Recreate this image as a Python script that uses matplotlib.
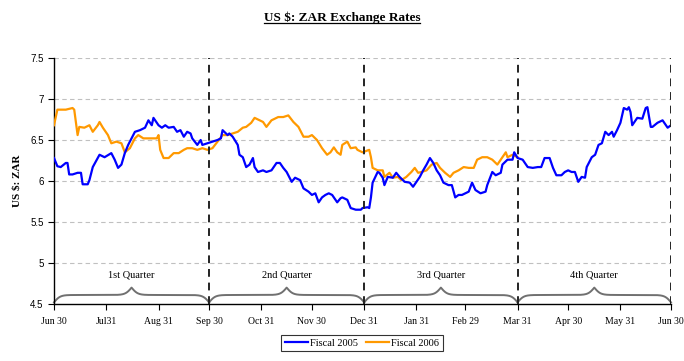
import numpy as np
import matplotlib
matplotlib.use("Agg")
import matplotlib.pyplot as plt
from matplotlib.lines import Line2D

# ---------------- data ----------------
fy2005_days = [0, 2, 4, 7, 8, 9, 11, 14, 16, 17, 20, 21, 23, 27, 30, 34, 36, 38, 40, 42,
               44, 46, 48, 51, 54, 56, 58, 59, 62, 64, 66, 68, 71, 73, 75, 77, 79, 81, 82, 85,
               87, 88, 91, 94, 97, 99, 100, 103, 104, 106, 109, 110, 112, 114, 116, 118, 119, 121, 124, 126,
               129, 132, 134, 136, 138, 141, 143, 146, 148, 151, 153, 155, 157, 159, 161, 163, 165, 168, 170, 171,
               174, 176, 179, 182, 183, 186, 187, 188, 189, 192, 193, 195, 196, 198, 201, 203, 205, 208, 211, 213,
               215, 217, 219, 221, 223, 225, 227, 229, 231, 234, 236, 238, 240, 242, 244, 246, 248, 250, 253, 256,
               257, 260, 262, 265, 266, 269, 272, 273, 275, 278, 279, 281, 284, 287, 289, 291, 294, 296, 298, 301,
               303, 305, 307, 309, 311, 313, 315, 316, 319, 321, 323, 325, 327, 329, 331, 332, 334, 336, 338, 340,
               341, 342, 343, 346, 349, 351, 352, 354, 355, 358, 361, 362, 364, 366]
fy2005_rate = [6.28, 6.18, 6.17, 6.22, 6.22, 6.08, 6.08, 6.10, 6.10, 5.96, 5.96, 6.01, 6.17, 6.32, 6.29, 6.34, 6.26, 6.16, 6.20, 6.34,
               6.44, 6.52, 6.60, 6.62, 6.65, 6.74, 6.68, 6.77, 6.68, 6.65, 6.68, 6.65, 6.66, 6.60, 6.62, 6.54, 6.60, 6.58, 6.52, 6.44,
               6.50, 6.44, 6.46, 6.48, 6.50, 6.52, 6.62, 6.56, 6.58, 6.54, 6.44, 6.32, 6.29, 6.17, 6.20, 6.28, 6.17, 6.11, 6.13, 6.11,
               6.13, 6.22, 6.22, 6.16, 6.11, 5.99, 6.04, 6.01, 5.91, 5.87, 5.83, 5.85, 5.74, 5.80, 5.83, 5.85, 5.83, 5.74, 5.79, 5.80,
               5.77, 5.67, 5.65, 5.65, 5.67, 5.68, 5.67, 5.80, 5.98, 6.11, 6.10, 6.04, 5.95, 6.05, 6.04, 6.10, 6.05, 5.99, 5.98, 5.93,
               5.99, 6.05, 6.13, 6.20, 6.28, 6.22, 6.13, 6.07, 5.98, 5.95, 5.95, 5.80, 5.83, 5.83, 5.85, 5.87, 5.98, 5.89, 5.85, 5.87,
               5.95, 6.11, 6.07, 6.10, 6.20, 6.26, 6.26, 6.35, 6.28, 6.26, 6.23, 6.17, 6.16, 6.17, 6.17, 6.28, 6.28, 6.16, 6.07, 6.07,
               6.11, 6.13, 6.11, 6.11, 5.99, 6.05, 6.04, 6.17, 6.29, 6.32, 6.44, 6.46, 6.60, 6.56, 6.60, 6.54, 6.62, 6.71, 6.89, 6.87,
               6.90, 6.84, 6.68, 6.77, 6.76, 6.89, 6.90, 6.66, 6.66, 6.71, 6.74, 6.71, 6.65, 6.68]

fy2006_days = [0, 2, 7, 11, 12, 14, 15, 18, 21, 23, 26, 27, 29, 32, 34, 37, 40, 42, 45, 48,
               50, 53, 57, 61, 62, 63, 65, 68, 71, 74, 77, 79, 82, 85, 88, 91, 94, 97, 100, 103,
               106, 109, 112, 114, 117, 119, 122, 124, 126, 129, 133, 136, 139, 142, 145, 148, 151, 153, 156, 159,
               162, 164, 166, 168, 170, 171, 174, 176, 179, 180, 183, 187, 188, 189, 192, 195, 196, 199, 201, 204,
               206, 209, 212, 214, 216, 218, 221, 224, 227, 229, 232, 235, 237, 240, 243, 246, 249, 251, 254, 257,
               260, 263, 265, 266, 268, 269, 272, 275]
fy2006_rate = [6.68, 6.87, 6.87, 6.89, 6.87, 6.56, 6.66, 6.65, 6.68, 6.60, 6.68, 6.72, 6.65, 6.56, 6.46, 6.48, 6.46, 6.35, 6.40, 6.52,
               6.56, 6.52, 6.52, 6.52, 6.56, 6.38, 6.28, 6.28, 6.34, 6.34, 6.38, 6.40, 6.40, 6.38, 6.40, 6.38, 6.40, 6.48, 6.56, 6.56,
               6.58, 6.60, 6.65, 6.66, 6.71, 6.77, 6.74, 6.72, 6.66, 6.74, 6.78, 6.78, 6.80, 6.72, 6.66, 6.54, 6.54, 6.56, 6.50, 6.40,
               6.32, 6.35, 6.41, 6.35, 6.32, 6.44, 6.48, 6.40, 6.41, 6.38, 6.35, 6.38, 6.29, 6.16, 6.13, 6.13, 6.05, 6.10, 6.04, 6.05,
               6.01, 6.05, 6.11, 6.16, 6.10, 6.11, 6.13, 6.20, 6.22, 6.16, 6.10, 6.05, 6.10, 6.13, 6.17, 6.16, 6.16, 6.26, 6.29, 6.29,
               6.26, 6.20, 6.26, 6.29, 6.35, 6.29, 6.32, 6.29]

tick_days = [0, 31, 62, 92, 123, 153, 184, 215, 244, 275, 305, 336, 366]
tick_labels = ["Jun 30", "Jul31", "Aug 31", "Sep 30", "Oct 31", "Nov 30", "Dec 31",
               "Jan 31", "Feb 29", "Mar 31", "Apr 30", "May 31", "Jun 30"]
quarter_bounds = [0, 92, 184, 275, 366]
quarter_labels = ["1st Quarter", "2nd Quarter", "3rd Quarter", "4th Quarter"]
y_ticks = [4.5, 5, 5.5, 6, 6.5, 7, 7.5]
y_tick_labels = ["4.5", "5", "5.5", "6", "6.5", "7", "7.5"]

# ---------------- figure ----------------
serif = ["Liberation Serif", "DejaVu Serif"]
sans = ["Liberation Sans", "DejaVu Sans"]

fig = plt.figure(figsize=(6.84, 3.61), dpi=100)
ax = fig.add_axes([54 / 684, 1 - 304 / 361, (671 - 54) / 684, (304 - 58) / 361])

ax.plot(fy2005_days, fy2005_rate, color="#0000FF", lw=1.6, label="Fiscal 2005", zorder=4)
ax.plot(fy2006_days, fy2006_rate, color="#FF9900", lw=1.6, label="Fiscal 2006", zorder=3)

ax.set_xlim(0, 366)
ax.set_ylim(4.5, 7.5)

for y in y_ticks[1:]:
    ax.axhline(y, color="#c0c0c0", lw=0.8, ls=(0, (4, 3)), zorder=1)

for qb in quarter_bounds[1:]:
    ax.axvline(qb, color="#222222", lw=1.4, ls=(0, (4, 3)), zorder=5)

# curly braces
def brace(x0, x1, color="#707070"):
    n = 801
    xs = np.linspace(x0, x1, n)
    half = xs[: n // 2 + 1]
    beta = 0.55
    yb = 1 / (1 + np.exp(-beta * (half - half[0]))) + 1 / (1 + np.exp(-beta * (half - half[-1])))
    yy = np.concatenate((yb, yb[-2::-1]))
    yy = 4.43 + 0.18 * yy
    ax.plot(xs, yy, color=color, lw=1.4, zorder=2, clip_on=False)

for i in range(4):
    a, b = quarter_bounds[i], quarter_bounds[i + 1]
    brace(a, b)
    ax.text((a + b) / 2, 4.85, quarter_labels[i], ha="center", va="center",
            family=serif, fontsize=7.5)

ax.set_xticks(tick_days)
ax.set_xticklabels(tick_labels, family=serif, fontsize=7)
ax.set_yticks(y_ticks)
ax.set_yticklabels(y_tick_labels, family=sans, fontsize=7)
ax.tick_params(axis="both", direction="out", length=4, width=0.8, color="black")
ax.tick_params(axis="x", pad=5)

for s in ["top", "right"]:
    ax.spines[s].set_visible(False)
for s in ["left", "bottom"]:
    ax.spines[s].set_linewidth(1.0)
    ax.spines[s].set_color("black")

ax.set_ylabel("US $: ZAR", family=serif, fontsize=8, fontweight="bold", labelpad=6)

title = fig.text(0.5, 1 - 18 / 361, "US $: ZAR Exchange Rates", ha="center", va="center",
                 family=serif, fontsize=9.5, fontweight="bold")

leg = ax.legend(loc="center", ncol=2, prop={"family": serif, "size": 7.5}, frameon=True,
                fancybox=False, edgecolor="black", handlelength=2.2, handletextpad=0.2,
                columnspacing=0.8, borderpad=0.35)
leg.get_frame().set_linewidth(0.8)
leg.set_bbox_to_anchor((362 / 684, 1 - 343 / 361), transform=fig.transFigure)

fig.canvas.draw()
r = fig.canvas.get_renderer()
bb = title.get_window_extent(r)
inv = fig.transFigure.inverted()
(x0f, y0f) = inv.transform((bb.x0, bb.y0 + 1))
(x1f, _) = inv.transform((bb.x1, bb.y0 + 1))
fig.add_artist(Line2D([x0f, x1f], [y0f, y0f], color="black", lw=0.9, transform=fig.transFigure))

fig.savefig("out.png", dpi=100)
